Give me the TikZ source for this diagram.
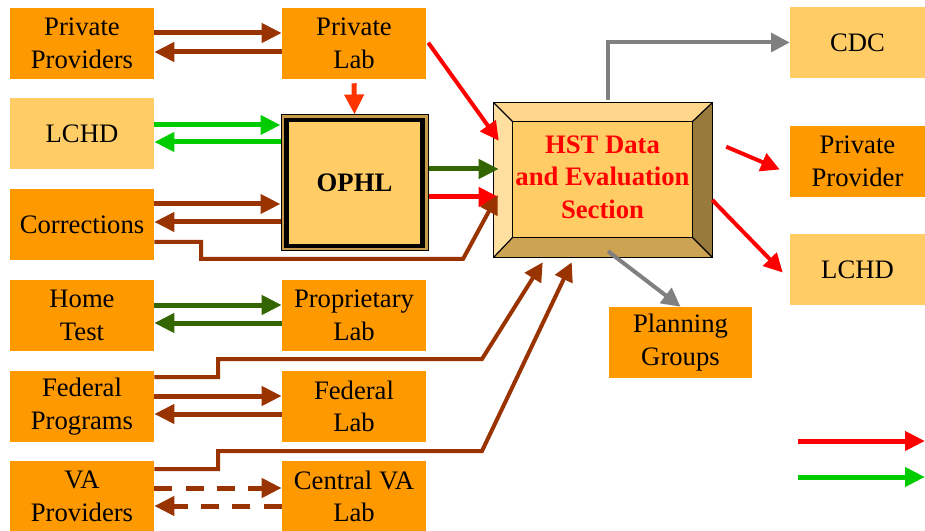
\documentclass[tikz,border=0pt]{standalone}
\usepackage{fontspec}
\setmainfont{Liberation Serif}
\newfontfamily\tnr{Liberation Serif}
\usetikzlibrary{arrows.meta,calc}
\definecolor{dorange}{HTML}{FF9900}
\definecolor{lorange}{HTML}{FFCC66}
\definecolor{brn}{HTML}{993300}
\definecolor{lgreen}{HTML}{00CC00}
\definecolor{dgreen}{HTML}{336600}
\definecolor{ored}{HTML}{FF3300}
\definecolor{gry}{HTML}{808080}
\definecolor{bvtop}{HTML}{FFD68C}
\definecolor{bvleft}{HTML}{FFDFA0}
\definecolor{bvbot}{HTML}{CCA352}
\definecolor{bvright}{HTML}{997A3D}
\definecolor{gold}{HTML}{C89B4A}
\tikzset{
  box/.style={rectangle, inner sep=0pt, align=center, font=\tnr\fontsize{20}{24.5}\selectfont,
    minimum width=108pt, minimum height=53.25pt},
  dk/.style={box, fill=dorange},
  lt/.style={box, fill=lorange},
  arr/.style={line width=3.75pt, -{Triangle[length=15pt,width=14pt]}},
  thinarr/.style={line width=3pt, -{Triangle[length=14pt,width=14pt]}},
}
\begin{document}
\begin{tikzpicture}[x=0.75pt,y=-0.75pt]
\useasboundingbox (0,0) rectangle (925,531);
% left column
\node[dk] (pp) at (82,43.5) {Private\\Providers};
\node[lt] (lchd) at (82,133.5) {LCHD};
\node[dk] (corr) at (82,224.5) {Corrections};
\node[dk] (home) at (82,315.5) {Home\\Test};
\node[dk] (fed) at (82,406.5) {Federal\\Programs};
\node[dk] (va) at (82,496.5) {VA\\Providers};
% middle column
\node[dk] (plab) at (354,43.5) {Private\\Lab};
\node[dk] (prop) at (354,315.5) {Proprietary\\Lab};
\node[dk] (flab) at (354,406.5) {Federal\\Lab};
\node[dk] (cva) at (354,496.5) {Central VA\\Lab};
% OPHL
\node[rectangle, draw=black, line width=0.75pt, fill=gold, minimum width=110.25pt, minimum height=102pt, inner sep=0pt] (ophl) at (354.5,183) {};
\node[rectangle, draw=black, line width=3.2pt, fill=lorange, minimum width=102pt, minimum height=94pt, inner sep=0pt, font=\tnr\fontsize{20}{24}\selectfont\bfseries] (ophlin) at (354.5,183) {OPHL};
% HST bevel box
\node[rectangle, minimum width=163.5pt, minimum height=115.5pt, inner sep=0pt] (hst) at (603,180) {};
\coordinate (i1) at ($(hst.north west)+(19,19)$);
\coordinate (i2) at ($(hst.north east)+(-20,19)$);
\coordinate (i3) at ($(hst.south east)+(-20,-20)$);
\coordinate (i4) at ($(hst.south west)+(19,-20)$);
\fill[bvtop] (hst.north west) -- (hst.north east) -- (i2) -- (i1) -- cycle;
\fill[bvleft] (hst.north west) -- (i1) -- (i4) -- (hst.south west) -- cycle;
\fill[bvbot] (hst.south west) -- (i4) -- (i3) -- (hst.south east) -- cycle;
\fill[bvright] (hst.north east) -- (hst.south east) -- (i3) -- (i2) -- cycle;
\fill[lorange] (i1) rectangle (i3);
\draw[line width=0.9pt] (hst.north west) rectangle (hst.south east);
\draw[line width=0.9pt] (i1) rectangle (i3);
\draw[line width=0.9pt] (hst.north west) -- (i1) (hst.north east) -- (i2) (hst.south east) -- (i3) (hst.south west) -- (i4);
\node[align=center, text=red, font=\tnr\fontsize{20}{24.5}\selectfont\bfseries, inner sep=0pt] (hsttext) at (602.5,177) {HST Data\\and Evaluation\\Section};
% right column
\node[lt, minimum width=101.25pt] (cdc) at (857.5,42.5) {CDC};
\node[dk, minimum width=101.25pt] (ppr) at (857.5,161.5) {Private\\Provider};
\node[lt, minimum width=101.25pt] (lchdr) at (857.5,269.5) {LCHD};
\node[dk, minimum width=107.25pt] (plan) at (680.5,342.5) {Planning\\Groups};
% two-way arrows
\draw[arr, brn] (pp.east |- 0,33) -- (plab.west |- 0,33);
\draw[arr, brn] (plab.west |- 0,52) -- (pp.east |- 0,52);
\draw[arr, lgreen] (lchd.east |- 0,125) -- (ophl.west |- 0,125);
\draw[arr, lgreen] (ophl.west |- 0,142) -- (lchd.east |- 0,142);
\draw[arr, brn] (corr.east |- 0,204) -- (ophl.west |- 0,204);
\draw[arr, brn] (ophl.west |- 0,222) -- (corr.east |- 0,222);
\draw[arr, dgreen] (home.east |- 0,305) -- (prop.west |- 0,305);
\draw[arr, dgreen] (prop.west |- 0,323) -- (home.east |- 0,323);
\draw[arr, brn] (fed.east |- 0,396) -- (flab.west |- 0,396);
\draw[arr, brn] (flab.west |- 0,414) -- (fed.east |- 0,414);
\draw[arr, brn, dash pattern=on 13.5pt off 10pt] (va.east |- 0,488) -- (cva.west |- 0,488);
\draw[arr, brn, dash pattern=on 13.5pt off 10pt] (cva.west |- 0,506) -- (va.east |- 0,506);
% private lab -> OPHL
\draw[arr, ored] ($(plab.south)+(0,4)$) -- (ophl.north);
% into HST
\draw[thinarr, red] ($(plab.north east)+(2,35)$) -- ($(hst.north west)+(5,38)$);
\draw[arr, dgreen] (ophl.east |- 0,169) -- ($(hst.west |- 0,169)+(5,0)$);
\draw[arr, red] (ophl.east |- 0,197) -- ($(hst.west |- 0,197)+(5,0)$);
\draw[thinarr, brn, line join=miter] (corr.east |- 0,242) -| (201,259) -- (463,259) -- ($(hst.west)+(4,15)$);
\draw[thinarr, brn, line join=miter] (fed.east |- 0,377) -| (218,359) -- (482,359) -- ($(hst.south west)+(49,5)$);
\draw[thinarr, brn, line join=miter] (va.east |- 0,469) -| (218,451) -- (482,451) -- ($(hst.south west)+(78,5)$);
% out of HST
\draw[thinarr, gry] ($(hst.north)+(5,-3)$) |- (cdc.west);
\draw[thinarr, red] ($(hst.north east)+(14,44)$) -- ($(ppr.west)+(-10,8)$);
\draw[thinarr, red] ($(hst.east)+(0,20)$) -- ($(lchdr.west)+(-7,3)$);
\draw[thinarr, gry] ($(hst.south)+(5,-6)$) -- (plan.north);
% legend
\coordinate (l1a) at (798,441);
\coordinate (l1b) at (925,441);
\coordinate (l2a) at (798,477);
\coordinate (l2b) at (925,477);
\draw[arr, red] (l1a) -- (l1b);
\draw[arr, lgreen] (l2a) -- (l2b);
\end{tikzpicture}
\end{document}
